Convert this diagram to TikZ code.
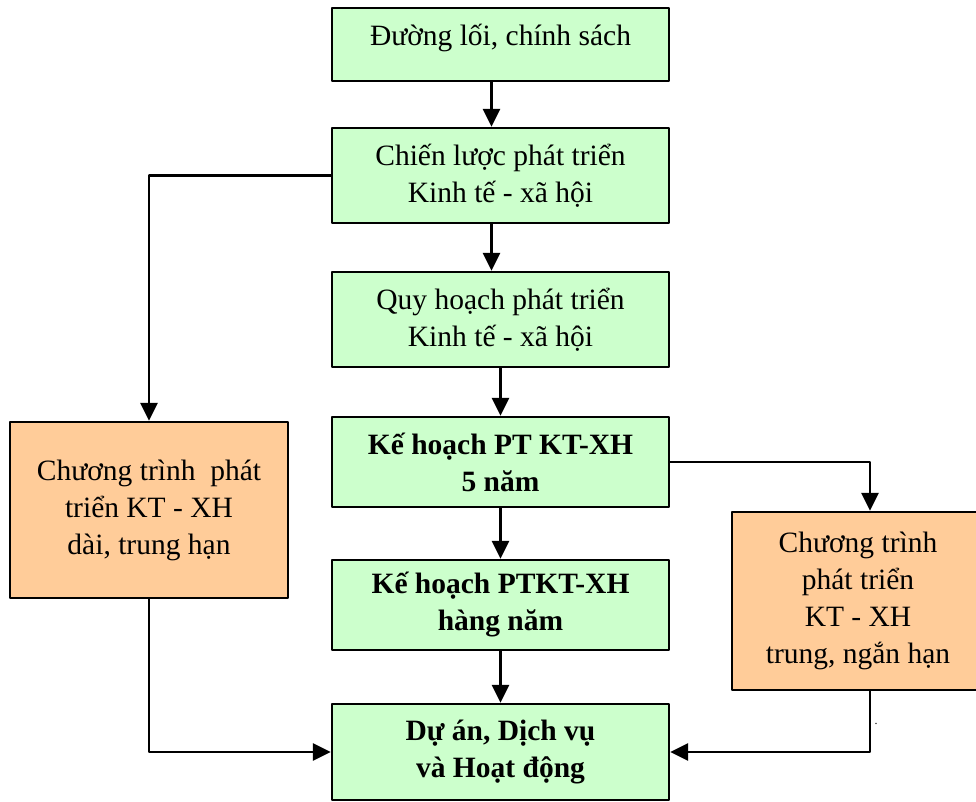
\documentclass[tikz,border=0pt]{standalone}
\usepackage{fontspec}
\setmainfont{Liberation Serif}
\usetikzlibrary{arrows.meta,calc,positioning}
\definecolor{khGreen}{HTML}{CCFFCC}
\definecolor{khOrange}{HTML}{FFCC99}
\definecolor{khInk}{HTML}{000000}

\begin{document}
\begin{tikzpicture}[x=1pt,y=-1pt,>=Latex,line cap=round,line join=round]
\path[fill=white] (0,0) rectangle (976,801);
\useasboundingbox (0,0) rectangle (976,801);
\tikzset{greenbox/.style={draw=khInk,fill=khGreen,line width=2.4pt,minimum width=337pt,align=center,inner sep=0pt,font=\fontsize{29.5}{37}\selectfont},orangebox/.style={draw=khInk,fill=khOrange,line width=2.4pt,align=center,inner sep=0pt,font=\fontsize{29.5}{37}\selectfont},link/.style={draw=khInk,line width=2.8pt,-{Triangle[length=18pt,width=17pt]}}}
\node[greenbox,minimum height=73pt] (duongloi) at (500.5,44.5) {\raisebox{20pt}{Đường lối, chính sách}};
\node[greenbox,minimum height=95pt] (chienluoc) at (500.5,175.5) {Chiến lược phát triển\\Kinh tế - xã hội};
\node[greenbox,minimum height=95pt] (quyhoach) at (500.5,319.5) {Quy hoạch phát triển\\Kinh tế - xã hội};
\node[greenbox,minimum height=90pt,font=\fontsize{29.5}{37}\selectfont\bfseries] (kh5nam) at (500.5,462) {Kế hoạch PT KT-XH\\5 năm};
\node[greenbox,minimum height=90pt,font=\fontsize{29.5}{37}\selectfont\bfseries] (khnam) at (500.5,605) {Kế hoạch PTKT-XH\\hàng năm};
\node[greenbox,minimum height=96pt,font=\fontsize{29.5}{37}\selectfont\bfseries] (duan) at (500.5,752) {Dự án, Dịch vụ\\và Hoạt động};
\node[orangebox,minimum width=278pt,minimum height=176pt] (ctdai) at (149,510) {\raisebox{6pt}{\begin{tabular}{@{}c@{}}Chương trình\ \ phát\\triển KT - XH\\dài, trung hạn\end{tabular}}};
\node[orangebox,minimum width=276pt,minimum height=178pt] (ctngan) at (870,601) {\raisebox{5pt}{\begin{tabular}{@{}c@{}}Chương trình\\phát triển\\KT - XH\\trung, ngắn hạn\end{tabular}}\hspace{24pt}};
\node[font=\fontsize{12}{14}\selectfont,inner sep=0pt] (dot) at (876,724) {.};
\draw[link] ([xshift=-9pt]duongloi.south) -- ([xshift=-9pt]chienluoc.north);
\draw[link] ([xshift=-9pt]chienluoc.south) -- ([xshift=-9pt]quyhoach.north);
\draw[link] (quyhoach.south) -- (kh5nam.north);
\draw[link] (kh5nam.south) -- (khnam.north);
\draw[link] (khnam.south) -- (duan.north);
\draw[link] (chienluoc.west) -| (ctdai.north);
\draw[link] (ctdai.south) |- (duan.west);
\draw[link] (kh5nam.east) -| (ctngan.north);
\draw[link] (ctngan.south) |- (duan.east);
\end{tikzpicture}
\end{document}
